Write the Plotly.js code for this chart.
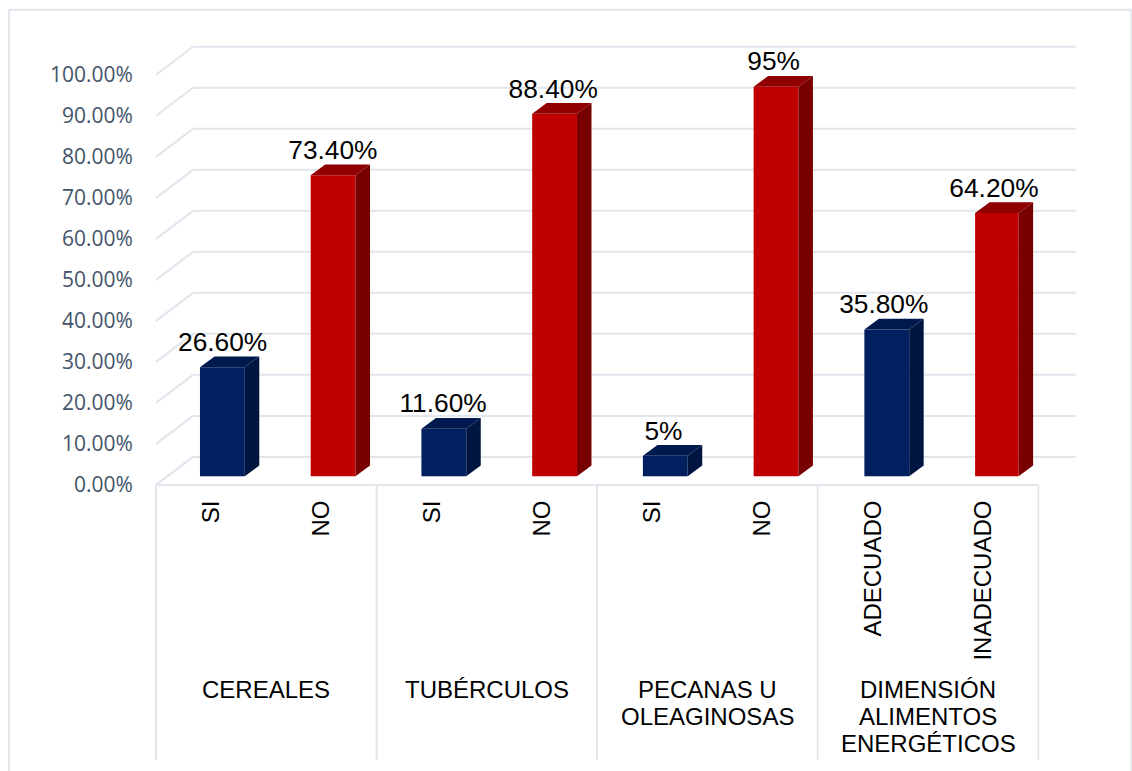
<!DOCTYPE html>
<html><head><meta charset="utf-8">
<script src="https://cdn.plot.ly/plotly-3.0.1.min.js"></script>
<style>html,body{margin:0;padding:0;background:#fff;overflow:hidden}#c{width:1132px;height:771px}</style>
</head><body><div id="c"></div>
<script>
// data
const categories = ["SI","NO","SI","NO","SI","NO","ADECUADO","INADECUADO"];
const values = [26.6,73.4,11.6,88.4,5,95,35.8,64.2];
const valueLabels = ["26.60%","73.40%","11.60%","88.40%","5%","95%","35.80%","64.20%"];
const groupLines = [["CEREALES"],["TUBÉRCULOS"],["PECANAS U","OLEAGINOSAS"],["DIMENSIÓN","ALIMENTOS","ENERGÉTICOS"]];
const groupCentres = [0.5,2.5,4.5,6.5];
const groupEdges = [-0.5,1.5,3.5,5.5,7.5];
const yTicks = [0,10,20,30,40,50,60,70,80,90,100];
const yTickLabels = ["0.00%","10.00%","20.00%","30.00%","40.00%","50.00%","60.00%","70.00%","80.00%","90.00%","100.00%"];
const barColours = ["#002060","#C00000","#002060","#C00000","#002060","#C00000","#002060","#C00000"];
const sideColours = ["#001540","#780000","#001540","#780000","#001540","#780000","#001540","#780000"];
const topColours = ["#001A4F","#900000","#001A4F","#900000","#001A4F","#900000","#001A4F","#900000"];

// geometry of the pseudo-3D projection
const W=1132,H=771;
const X0=211,XS=110.25,Y0=485,YS=4.1;
const xRange=[-0.6,7.86], yRange=[-1,108];
const DX=37/XS, DY=28/YS;           // depth of the floor, in axis units
const BAR_X0=222.2, BAR_STEP=110.7; // pixel centre of first bar and spacing of bars
const LABEL_X0=222.5, LABEL_STEP=110.15;
const BAR_W=[44.8,44.8,44.8,44.8,44.8,44.8,44.8,43.5];
const BASE=8.6/YS, SX=14.5/XS, SY=10.8/YS;
const grid="#E1E5EC";

const mT=Y0-yRange[1]*YS, mB=H-(Y0-yRange[0]*YS);
const mL=X0+xRange[0]*XS, mR=W-(X0+xRange[1]*XS);
const plotH=H-mT-mB;
const paperY=px=>(H-mB-px)/plotH;
const paperX=px=>(px-mL)/(W-mL-mR);
const barCentre=i=>(BAR_X0+BAR_STEP*i-(44.8-BAR_W[i])/2-X0)/XS;
const labelCentre=i=>(LABEL_X0+LABEL_STEP*i-X0)/XS;

const traces=[];
values.forEach((v,i)=>{
  const bw=BAR_W[i]/XS, xl=barCentre(i)-bw/2, xr=xl+bw;
  const b0=BASE, t0=v+BASE;
  traces.push({type:"scatter",mode:"lines",fill:"toself",fillcolor:sideColours[i],line:{width:0},hoverinfo:"skip",showlegend:false,
    x:[xr,xr+SX,xr+SX,xr,xr],y:[b0,b0+SY,t0+SY,t0,b0]});
  traces.push({type:"scatter",mode:"lines",fill:"toself",fillcolor:topColours[i],line:{width:0},hoverinfo:"skip",showlegend:false,
    x:[xl,xl+SX,xr+SX,xr,xl],y:[t0,t0+SY,t0+SY,t0,t0]});
});
traces.push({type:"bar",x:values.map((v,i)=>barCentre(i)),y:values,base:values.map(()=>BASE),width:BAR_W.map(w=>w/XS),
  marker:{color:barColours,line:{width:0}},showlegend:false,hoverinfo:"skip"});
traces.push({type:"scatter",mode:"text",x:values.map((v,i)=>labelCentre(i)),y:values.map(v=>v+BASE+SY+12/YS),
  text:valueLabels,textposition:"middle center",textfont:{family:"Liberation Sans",size:26.3,color:"#000"},
  cliponaxis:false,showlegend:false,hoverinfo:"skip"});

const line=(x0,y0,x1,y1,xref,yref)=>({type:"line",layer:"below",x0,y0,x1,y1,xref,yref,line:{color:grid,width:2}});
const shapes=[];
// frame
shapes.push(line(paperX(9),paperY(10),paperX(9),paperY(771),"paper","paper"));
shapes.push(line(paperX(9),paperY(10),paperX(1131),paperY(10),"paper","paper"));
shapes.push(line(paperX(1131),paperY(10),paperX(1131),paperY(771),"paper","paper"));
// walls
yTicks.forEach(t=>{
  shapes.push(line(-0.5,t,-0.5+DX,t+DY,"x","y"));
  shapes.push(line(-0.5+DX,t+DY,xRange[1]-0.02,t+DY,"x","y"));
});
// category axis
shapes.push(line(-0.5,0,7.5,0,"x","y"));
groupEdges.forEach(e=>shapes.push(line(e,paperY(485),e,paperY(760),"x","paper")));

const annotations=[];
groupLines.forEach((g,i)=>g.forEach((t,j)=>annotations.push({text:t,x:groupCentres[i],xref:"x",y:paperY(690+27*j),yref:"paper",
  xanchor:"center",yanchor:"middle",showarrow:false,align:"center",
  font:{family:"Liberation Sans",size:24,color:"#000"}})));

const layout={width:W,height:H,margin:{l:mL,r:mR,t:mT,b:mB,pad:0},paper_bgcolor:"#fff",plot_bgcolor:"rgba(0,0,0,0)",
  showlegend:false,barmode:"overlay",shapes,annotations,
  xaxis:{range:xRange,tickmode:"array",tickvals:categories.map((c,i)=>i),ticktext:categories,tickangle:-90,
    showgrid:false,zeroline:false,showline:false,ticks:"outside",ticklen:1,tickcolor:"rgba(0,0,0,0)",
    tickfont:{family:"Liberation Sans",size:24,color:"#000"}},
  yaxis:{range:yRange,tickmode:"array",tickvals:yTicks,ticktext:yTickLabels,
    showgrid:false,zeroline:false,showline:false,ticks:"outside",ticklen:7,tickcolor:"rgba(0,0,0,0)",
    tickfont:{family:"Open Sans",size:21,color:"#44546A"}}};
Plotly.newPlot("c",traces,layout,{displayModeBar:false,staticPlot:true});
</script></body></html>
